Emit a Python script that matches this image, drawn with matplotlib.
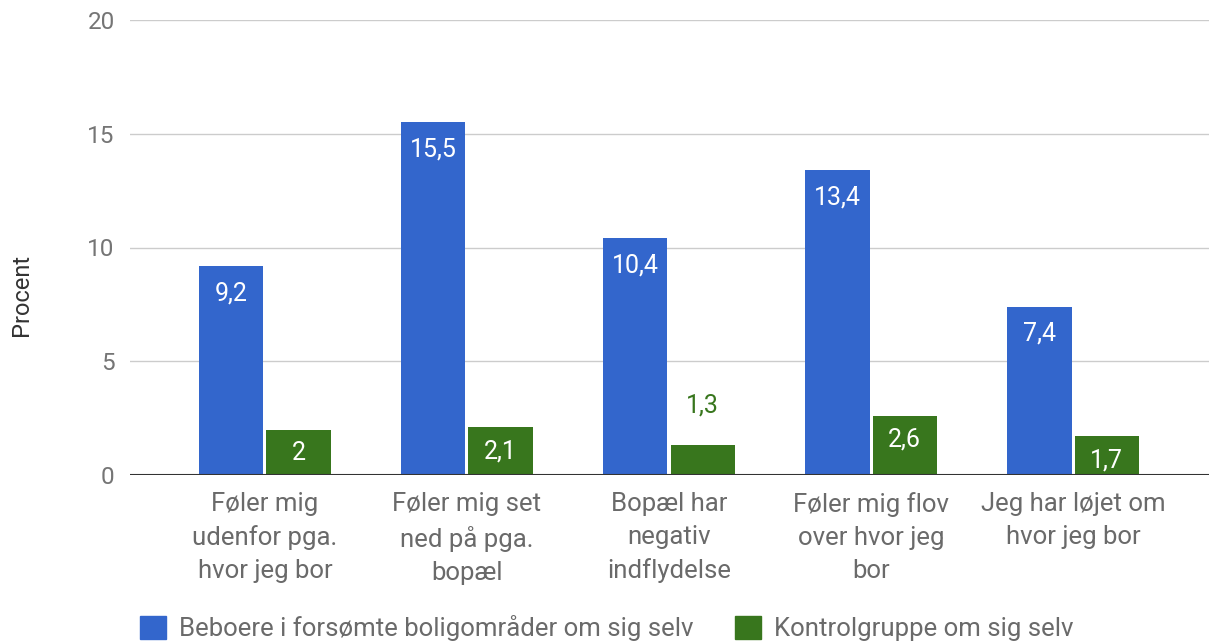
import matplotlib
matplotlib.use("Agg")
import matplotlib.pyplot as plt
import numpy as np
from matplotlib.patches import Patch

categories = ["Føler mig\nudenfor pga.\nhvor jeg bor",
              "Føler mig set\nned på pga.\nbopæl",
              "Bopæl har\nnegativ\nindflydelse",
              "Føler mig flov\nover hvor jeg\nbor",
              "Jeg har løjet om\nhvor jeg bor"]
series_names = ["Beboere i forsømte boligområder om sig selv",
                "Kontrolgruppe om sig selv"]
beboere = [9.2, 15.5, 10.4, 13.4, 7.4]
kontrol = [2.0, 2.1, 1.3, 2.6, 1.7]
yticks = [0, 5, 10, 15, 20]

BLUE = "#3366CC"
GREEN = "#38761D"
GREY = "#757575"

plt.rcParams['font.family'] = ['Roboto', 'DejaVu Sans']

fig = plt.figure(figsize=(12.09, 6.42), dpi=100)
ax = fig.add_axes([130/1209, 1-475/642, 1-130/1209, (475-20)/642])

x = np.arange(len(categories))
w = 0.317
off = 0.166
b1 = ax.bar(x - off, beboere, w, color=BLUE, zorder=3)
b2 = ax.bar(x + off, kontrol, w, color=GREEN, zorder=3)

def fmt(v):
    s = f"{v:.1f}".rstrip('0').rstrip('.')
    return s.replace('.', ',')

FS_VAL = 18
for rect, v in zip(b1, beboere):
    ax.text(rect.get_x() + rect.get_width()/2, v - 1.2, fmt(v),
            ha='center', va='center', color='white', fontsize=FS_VAL, zorder=4)
for rect, v in zip(b2, kontrol):
    if v >= 1.5:
        ax.text(rect.get_x() + rect.get_width()/2, v - 1.05, fmt(v),
                ha='center', va='center', color='white', fontsize=FS_VAL, zorder=4)
    else:
        ax.text(rect.get_x() + rect.get_width()/2, v + 1.75, fmt(v),
                ha='center', va='center', color=GREEN, fontsize=FS_VAL, zorder=4)

ax.set_xlim(-0.668, 4.673)
ax.set_ylim(0, 20)
ax.set_yticks(yticks)
ax.set_yticklabels([str(t) for t in yticks])
ax.grid(axis='y', color='#CCCCCC', linewidth=1, zorder=0)
ax.axhline(0, color='#333333', linewidth=1.5, zorder=5)
for s in ax.spines.values():
    s.set_visible(False)
ax.tick_params(axis='y', length=0, pad=11, labelsize=17.5, labelcolor=GREY)
ax.tick_params(axis='x', length=0, pad=12, labelsize=18.5, labelcolor='#6a6a6a')
ax.set_xticks(x)
ax.set_xticklabels(categories, linespacing=1.48, va='top')
ax.set_ylabel("Procent", fontsize=17, color='#333333')
ax.yaxis.set_label_coords((33-130)/1079, (475-295)/455)

handles = [Patch(color=BLUE), Patch(color=GREEN)]
fig.legend(handles, series_names, loc='center left', bbox_to_anchor=(140/1209, 1-628/642),
           ncol=2, frameon=False, fontsize=18.5, labelcolor='#6a6a6a', handlelength=1.0,
           handleheight=1.0, handletextpad=0.5, columnspacing=1.65, borderaxespad=0,
           borderpad=0)

fig.savefig("out.png", dpi=100)
